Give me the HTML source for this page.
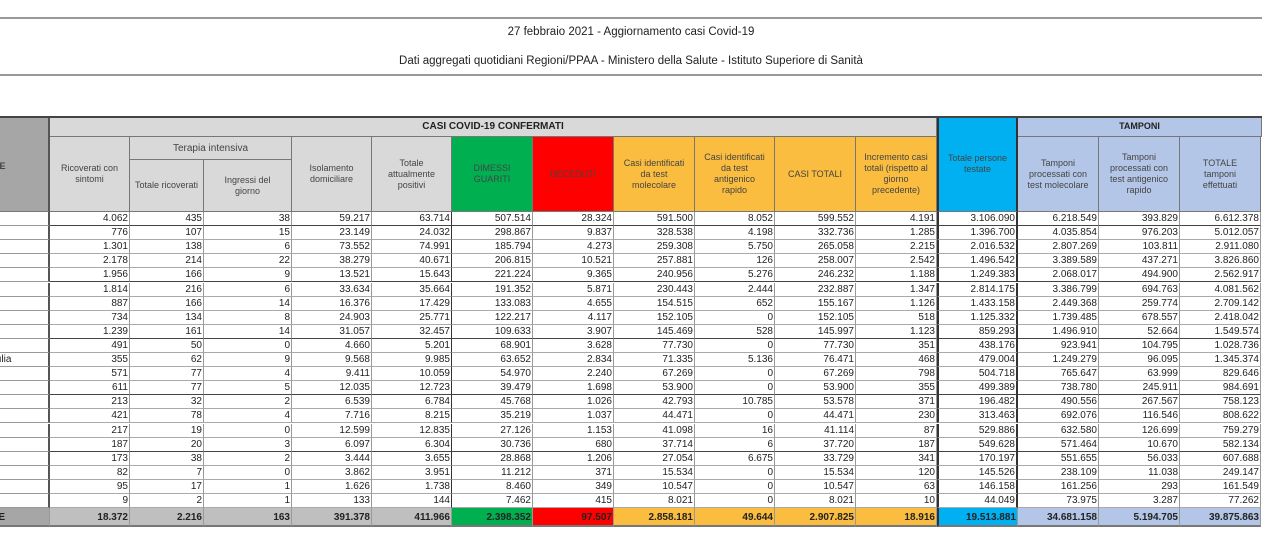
<!DOCTYPE html>
<html><head><meta charset="utf-8">
<style>
body{margin:0;width:1262px;height:541px;background:#fff;overflow:hidden;font-family:"Liberation Sans",sans-serif;position:relative}
.a{position:absolute;box-sizing:border-box}
.h{display:flex;align-items:center;justify-content:center;text-align:center;font-size:9px;color:#444;line-height:11px;border-right:1px solid #777;border-bottom:1px solid #777}
.c{font-size:10px;color:#222;text-align:right;padding-right:1px;line-height:14px;white-space:nowrap;border-right:1px solid #999}
</style></head><body>
<div class="a" style="left:0;top:17px;width:1262px;height:2px;background:#999"></div>
<div class="a" style="left:0;top:26px;width:1262px;text-align:center;font-size:11.5px;color:#222">27 febbraio 2021 - Aggiornamento casi Covid-19</div>
<div class="a" style="left:0;top:55px;width:1262px;text-align:center;font-size:11.5px;color:#222">Dati aggregati quotidiani Regioni/PPAA - Ministero della Salute - Istituto Superiore di Sanità</div>
<div class="a" style="left:0;top:74px;width:1262px;height:2px;background:#999"></div>
<div id="t"></div>
<script>
const regions=["Lombardia","Veneto","Campania","Emilia-Romagna","Lazio","Piemonte","Puglia","Toscana","Sicilia","Marche","Friuli Venezia Giulia","Liguria","Abruzzo","P.A. Bolzano","Sardegna","Umbria","Calabria","P.A. Trento","Basilicata","Molise","Valle d'Aosta"];
const rows=[
["4.062","435","38","59.217","63.714","507.514","28.324","591.500","8.052","599.552","4.191","3.106.090","6.218.549","393.829","6.612.378"],
["776","107","15","23.149","24.032","298.867","9.837","328.538","4.198","332.736","1.285","1.396.700","4.035.854","976.203","5.012.057"],
["1.301","138","6","73.552","74.991","185.794","4.273","259.308","5.750","265.058","2.215","2.016.532","2.807.269","103.811","2.911.080"],
["2.178","214","22","38.279","40.671","206.815","10.521","257.881","126","258.007","2.542","1.496.542","3.389.589","437.271","3.826.860"],
["1.956","166","9","13.521","15.643","221.224","9.365","240.956","5.276","246.232","1.188","1.249.383","2.068.017","494.900","2.562.917"],
["1.814","216","6","33.634","35.664","191.352","5.871","230.443","2.444","232.887","1.347","2.814.175","3.386.799","694.763","4.081.562"],
["887","166","14","16.376","17.429","133.083","4.655","154.515","652","155.167","1.126","1.433.158","2.449.368","259.774","2.709.142"],
["734","134","8","24.903","25.771","122.217","4.117","152.105","0","152.105","518","1.125.332","1.739.485","678.557","2.418.042"],
["1.239","161","14","31.057","32.457","109.633","3.907","145.469","528","145.997","1.123","859.293","1.496.910","52.664","1.549.574"],
["491","50","0","4.660","5.201","68.901","3.628","77.730","0","77.730","351","438.176","923.941","104.795","1.028.736"],
["355","62","9","9.568","9.985","63.652","2.834","71.335","5.136","76.471","468","479.004","1.249.279","96.095","1.345.374"],
["571","77","4","9.411","10.059","54.970","2.240","67.269","0","67.269","798","504.718","765.647","63.999","829.646"],
["611","77","5","12.035","12.723","39.479","1.698","53.900","0","53.900","355","499.389","738.780","245.911","984.691"],
["213","32","2","6.539","6.784","45.768","1.026","42.793","10.785","53.578","371","196.482","490.556","267.567","758.123"],
["421","78","4","7.716","8.215","35.219","1.037","44.471","0","44.471","230","313.463","692.076","116.546","808.622"],
["217","19","0","12.599","12.835","27.126","1.153","41.098","16","41.114","87","529.886","632.580","126.699","759.279"],
["187","20","3","6.097","6.304","30.736","680","37.714","6","37.720","187","549.628","571.464","10.670","582.134"],
["173","38","2","3.444","3.655","28.868","1.206","27.054","6.675","33.729","341","170.197","551.655","56.033","607.688"],
["82","7","0","3.862","3.951","11.212","371","15.534","0","15.534","120","145.526","238.109","11.038","249.147"],
["95","17","1","1.626","1.738","8.460","349","10.547","0","10.547","63","146.158","161.256","293","161.549"],
["9","2","1","133","144","7.462","415","8.021","0","8.021","10","44.049","73.975","3.287","77.262"]];
const totals=["18.372","2.216","163","391.378","411.966","2.398.352","97.507","2.858.181","49.644","2.907.825","18.916","19.513.881","34.681.158","5.194.705","39.875.863"];
const colX=[50,130,204,292,372,452,533,614,695,775,856,937,1018,1099,1180,1261];
const headers=["Ricoverati con<br>sintomi","Totale ricoverati","Ingressi del<br>giorno","Isolamento<br>domiciliare","Totale<br>attualmente<br>positivi","DIMESSI<br>GUARITI","DECEDUTI","Casi identificati<br>da test<br>molecolare","Casi identificati<br>da test<br>antigenico<br>rapido","CASI TOTALI","Incremento casi<br>totali (rispetto al<br>giorno<br>precedente)","Totale persone<br>testate","Tamponi<br>processati con<br>test molecolare","Tamponi<br>processati con<br>test antigenico<br>rapido","TOTALE<br>tamponi<br>effettuati"];
const hdrBg=["#d9d9d9","#d9d9d9","#d9d9d9","#d9d9d9","#d9d9d9","#00b050","#ff0000","#fbbd3f","#fbbd3f","#fbbd3f","#fbbd3f","#00b0f0","#b4c6e7","#b4c6e7","#b4c6e7"];
const totBg=["#bfbfbf","#bfbfbf","#bfbfbf","#bfbfbf","#bfbfbf","#00b050","#ff0000","#fbbd3f","#fbbd3f","#fbbd3f","#fbbd3f","#00b0f0","#b4c6e7","#b4c6e7","#b4c6e7"];
const T=document.getElementById('t');
function box(name,x,y,w,h,cls,html,style){const d=document.createElement('div');d.className='a '+cls;


d.style.cssText+=`left:${x}px;top:${y}px;width:${w}px;height:${h}px;`+(style||'');d.innerHTML=html;T.appendChild(d);return d;}
const top0=117,subTop=137,rowTop=212,rh=14.1;
box('region-header',0,top0,50,95,'h','<span style="position:absolute;left:-36px;top:44px;font-weight:bold;font-size:9px">REGIONE</span>','background:#a6a6a6;overflow:hidden;border-right:2px solid #555');
box('casi-confermati-header',50,top0,887,20,'h','<b style="font-size:10px;color:#222">CASI COVID-19 CONFERMATI</b>','background:#d9d9d9');
box('tamponi-header',1018,top0,244,20,'h','<b style="color:#222">TAMPONI</b>','background:#b4c6e7');
box('terapia-intensiva-header',130,subTop,162,23,'h','Terapia intensiva','background:#d9d9d9;font-size:10px');
for(let i=0;i<15;i++){
  let y=subTop,h=rowTop-subTop;
  if(i==1||i==2){y=160;h=rowTop-160;}
  if(i==11){y=top0;h=rowTop-top0;}
  box('header-'+(i+1),colX[i],y,colX[i+1]-colX[i],h,'h','<span>'+headers[i]+'</span>','background:'+hdrBg[i]+(i==11?';align-items:flex-start;padding-top:36px;border-left:2px solid #333;border-right:2px solid #333':''));
}
rows.forEach((r,ri)=>{
  const y=rowTop+ri*rh;
  box('region-'+ri,0,y,50,rh,'c','<span style="position:absolute;left:-77px;text-align:left">'+regions[ri]+'</span>','overflow:hidden;text-align:left;border-bottom:1px solid #999;border-right:2px solid #555');
  r.forEach((v,ci)=>{
    box('cell-'+ri+'-'+ci,colX[ci],y,colX[ci+1]-colX[ci],rh,'c',v,'border-bottom:1px solid '+([0,4,8,12,16].includes(ri)?'#444':'#aaa')+(ci==11?';border-left:2px solid #333;border-right:2px solid #333':'')+(ci==4?';border-right:1px solid #333':''));
  });
});
const ty=rowTop+rows.length*rh;
box('total-label',0,ty,50,19,'c','<span style="position:absolute;left:-34px;text-align:left;font-weight:bold">TOTALE</span>','overflow:hidden;background:#a6a6a6;line-height:19px;border-bottom:2px solid #777');
totals.forEach((v,ci)=>{
  box('total-'+ci,colX[ci],ty,colX[ci+1]-colX[ci],19,'c','<b>'+v+'</b>','background:'+totBg[ci]+';line-height:19px;border-bottom:2px solid #777'+(ci==11?';border-left:2px solid #333':''));
});
box('table-top-rule',0,top0-1,1262,2,'','','background:#444');
</script>
</body></html>
